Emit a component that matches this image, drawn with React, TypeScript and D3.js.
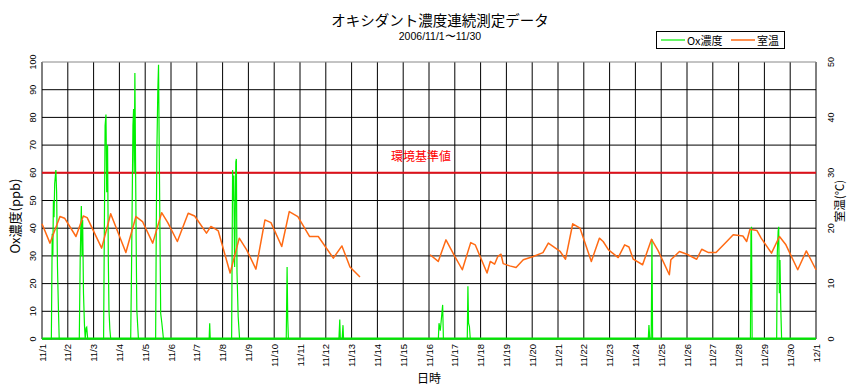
import React, { useRef, useEffect } from 'react';
import * as d3 from 'd3';

const dayLabels = [
  '11/1', '11/2', '11/3', '11/4', '11/5', '11/6', '11/7', '11/8', '11/9', '11/10',
  '11/11', '11/12', '11/13', '11/14', '11/15', '11/16', '11/17', '11/18', '11/19', '11/20',
  '11/21', '11/22', '11/23', '11/24', '11/25', '11/26', '11/27', '11/28', '11/29', '11/30', '12/1'
];

const oxTicks = [0, 10, 20, 30, 40, 50, 60, 70, 80, 90, 100];
const tempTicks = [0, 10, 20, 30, 40, 50];
const standardValue = 60;

// [hour from 11/1 0:00, ppb]
const oxPoints: [number, number][] = [
  [0, 0], [8.7, 0], [9.5, 38], [10.1, 30], [10.6, 50], [11.2, 44], [11.8, 56], [12.9, 61], [13.6, 53], [14.4, 26], [15.3, 10.5], [16, 0],
  [34.7, 0], [35.5, 28], [36.1, 40], [36.6, 48], [37.2, 30], [37.8, 43], [38.6, 16.5], [39.5, 5], [40.2, 0], [41, 4], [41.6, 4.3], [42.5, 0],
  [57.3, 0], [58, 40], [58.7, 77], [59.5, 81], [60.2, 53], [61, 70], [61.7, 28.5], [62.3, 10.5], [63.1, 3.6], [63.9, 0],
  [82.5, 0], [83.3, 26], [84.6, 77], [85.2, 83], [85.8, 60], [86.4, 96], [87, 65], [87.6, 35], [88.2, 10.5], [89.7, 0],
  [105.7, 0], [106.3, 40], [106.9, 69], [107.7, 89], [108.4, 99], [109, 71], [109.6, 44], [110.4, 9.3], [111.5, 5.7], [113, 0],
  [155.5, 0], [156, 5.7], [156.5, 0],
  [176.4, 0], [177.3, 61], [177.8, 50], [178.4, 59], [179.2, 26], [180.3, 64], [180.8, 65], [181.4, 24], [182.5, 8], [183.8, 0],
  [227.2, 0], [228, 26], [228.6, 7], [229.2, 0],
  [276.2, 0], [277, 7], [277.5, 0], [279.2, 0], [280, 5], [280.5, 0],
  [368.7, 0], [369.3, 5.7], [370.5, 3], [372.7, 12.3], [373.4, 0],
  [395.6, 0], [396.2, 19], [396.8, 5.7], [397.6, 4.5], [398.4, 0],
  [564, 0], [564.6, 5], [565.4, 0], [566.7, 0], [567.4, 36], [568, 0],
  [659, 0], [659.5, 38], [660, 40.5], [660.6, 0],
  [683.4, 0], [684, 31], [684.8, 39], [685.3, 40.5], [685.9, 16.5], [686.5, 28.5], [687.2, 11.7], [688, 0],
  [720, 0]
];

// [hour, ℃]; null marks the missing period
const tempPoints: [number, number | null][] = [
  [0, 20.8], [7.4, 17.3], [16.7, 22.1], [21, 21.8], [31.6, 18.5], [38.4, 22.2], [42, 21.9], [55.5, 16.4],
  [63.9, 22.6], [78, 15.6], [87.4, 22.1], [93.5, 21.2], [103, 17.3], [111.3, 22.8], [117, 21], [125.9, 17.6],
  [136, 22.7], [142, 22.2], [153, 19.1], [157, 20.3], [160, 20], [164, 19.5], [175, 11.9], [183.5, 18.2],
  [190.4, 16.1], [199, 12.6], [207.4, 21.5], [213, 21], [223, 16.7], [230, 23], [238, 22.1], [249, 18.5],
  [257, 18.5], [271, 14.6], [279, 16.8], [286.5, 13], [295.8, 11.2],
  [320, null],
  [361, 15.2], [368.6, 14], [375.8, 17.9], [384, 14.9], [391, 12.5], [398.8, 17.4], [403, 17], [414, 11.9],
  [417, 14], [421, 13.5], [424, 14.9], [427, 15.3], [429, 13.6], [435, 13.2], [441, 12.9], [447.7, 14.3],
  [457, 14.9], [466, 15.6], [471, 17.3], [482, 15.8], [487, 14.4], [493.7, 20.8], [500.5, 20], [511, 14],
  [518.5, 18.2], [522, 17.6], [527, 16.1], [536, 14.7], [542, 17], [546, 16.6], [550, 14.4], [558.7, 13.4],
  [567, 18], [573, 16], [583.6, 11.6], [585, 14.3], [593, 15.8], [600, 15.3], [609, 14.4], [613.7, 16.2],
  [620, 15.6], [627, 15.6], [637, 17.6], [643, 18.8], [652, 18.6], [655.5, 17.6], [658.6, 19.8], [665, 19.6],
  [669, 18.2], [678.6, 15.5], [686, 18.5], [692, 17], [703, 12.5], [711, 15.9], [720, 12.5]
];

const jp = '"Noto Sans CJK JP", sans-serif';
const num = '"Liberation Sans", Arial, sans-serif';

const App: React.FC = () => {
  const svgRef = useRef<SVGSVGElement>(null);

  useEffect(() => {
    if (!svgRef.current) return;
    const svg = d3.select(svgRef.current);
    svg.selectAll('*').remove();

    const left = 42, right = 816, top = 62, bottom = 339;

    const x = d3.scaleLinear().domain([0, 720]).range([left, right]);
    const yOx = d3.scaleLinear().domain([0, 100]).range([bottom, top]);
    const yT = d3.scaleLinear().domain([0, 50]).range([bottom, top]);

    // grid
    const grid = svg.append('g');
    grid.selectAll('line.v')
      .data(dayLabels.map((_, i) => i))
      .enter().append('line')
      .attr('x1', d => x(d * 24)).attr('x2', d => x(d * 24))
      .attr('y1', top).attr('y2', bottom)
      .attr('stroke', '#000').attr('stroke-width', 1);
    grid.selectAll('line.h')
      .data(oxTicks)
      .enter().append('line')
      .attr('x1', left).attr('x2', right)
      .attr('y1', d => yOx(d)).attr('y2', d => yOx(d))
      .attr('stroke', d => (d === 100 ? '#888' : '#000')).attr('stroke-width', 1);

    // standard line
    svg.append('line')
      .attr('x1', left).attr('x2', right)
      .attr('y1', yOx(standardValue)).attr('y2', yOx(standardValue))
      .attr('stroke', '#e0101a').attr('stroke-width', 2);
    svg.append('text')
      .attr('x', 421).attr('y', 161)
      .attr('text-anchor', 'middle')
      .attr('font-family', jp).attr('font-size', 12)
      .attr('fill', '#ff0000')
      .text('環境基準値');

    // Ox series
    const oxLine = d3.line<[number, number]>()
      .x(d => x(d[0])).y(d => yOx(d[1]));
    svg.append('path')
      .datum(oxPoints)
      .attr('d', oxLine)
      .attr('fill', 'none')
      .attr('stroke', '#00f000').attr('stroke-width', 1.2);
    svg.append('line')
      .attr('x1', left).attr('x2', right)
      .attr('y1', bottom - 0.5).attr('y2', bottom - 0.5)
      .attr('stroke', '#00e600').attr('stroke-width', 2);

    // temperature series
    const tLine = d3.line<[number, number | null]>()
      .defined(d => d[1] !== null)
      .x(d => x(d[0])).y(d => yT(d[1] as number));
    svg.append('path')
      .datum(tempPoints)
      .attr('d', tLine)
      .attr('fill', 'none')
      .attr('stroke', '#ff6a13').attr('stroke-width', 1.5)
      .attr('stroke-linejoin', 'round');

    // tick labels
    svg.append('g').selectAll('text')
      .data(oxTicks)
      .enter().append('text')
      .attr('transform', d => `translate(35.5,${yOx(d)}) rotate(-90)`)
      .attr('text-anchor', 'middle')
      .attr('font-family', num).attr('font-size', 9)
      .text(d => d);
    svg.append('g').selectAll('text')
      .data(tempTicks)
      .enter().append('text')
      .attr('transform', d => `translate(833.5,${yT(d)}) rotate(-90)`)
      .attr('text-anchor', 'middle')
      .attr('font-family', num).attr('font-size', 9)
      .text(d => d);
    svg.append('g').selectAll('text')
      .data(dayLabels)
      .enter().append('text')
      .attr('transform', (_, i) => `translate(${x(i * 24) + 3.5},344) rotate(-90)`)
      .attr('text-anchor', 'end')
      .attr('font-family', num).attr('font-size', 9.5)
      .text(d => d);

    // axis titles
    svg.append('text')
      .attr('transform', 'translate(20,216) rotate(-90)')
      .attr('text-anchor', 'middle')
      .attr('font-family', jp).attr('font-size', 13)
      .text('Ox濃度(ppb)');
    svg.append('text')
      .attr('transform', 'translate(844,201) rotate(-90)')
      .attr('text-anchor', 'middle')
      .attr('font-family', jp).attr('font-size', 11.5)
      .text('室温(℃)');
    svg.append('text')
      .attr('x', 429).attr('y', 383)
      .attr('text-anchor', 'middle')
      .attr('font-family', jp).attr('font-size', 12)
      .text('日時');

    // titles
    svg.append('text')
      .attr('x', 440).attr('y', 26)
      .attr('text-anchor', 'middle')
      .attr('font-family', jp).attr('font-size', 14.5)
      .text('オキシダント濃度連続測定データ');
    svg.append('text')
      .attr('x', 440).attr('y', 40)
      .attr('text-anchor', 'middle')
      .attr('font-family', num).attr('font-size', 10.5)
      .text('2006/11/1〜11/30');

    // legend
    const lg = svg.append('g');
    lg.append('rect')
      .attr('x', 656.5).attr('y', 31.5).attr('width', 128).attr('height', 17)
      .attr('fill', '#fff').attr('stroke', '#000').attr('stroke-width', 1);
    lg.append('line')
      .attr('x1', 661).attr('x2', 685).attr('y1', 40).attr('y2', 40)
      .attr('stroke', '#00f000').attr('stroke-width', 1.2);
    lg.append('text')
      .attr('x', 687).attr('y', 44.5)
      .attr('font-family', jp).attr('font-size', 11)
      .text('Ox濃度');
    lg.append('line')
      .attr('x1', 731).attr('x2', 755).attr('y1', 40).attr('y2', 40)
      .attr('stroke', '#ff6a13').attr('stroke-width', 1.5);
    lg.append('text')
      .attr('x', 757).attr('y', 44.5)
      .attr('font-family', jp).attr('font-size', 11)
      .text('室温');
  }, []);

  return (
    <svg ref={svgRef} width="851" height="392"
      style={{ position: 'absolute', left: 0, top: 0, background: '#fff' }}></svg>
  );
};

export default App;
